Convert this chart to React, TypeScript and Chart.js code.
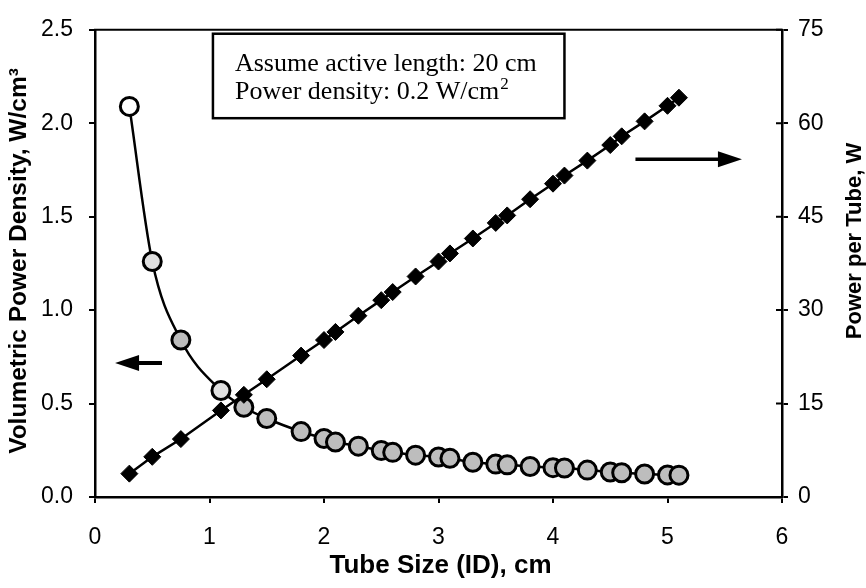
import React, { useEffect, useRef } from 'react';
import { Chart, registerables } from 'chart.js';

Chart.register(...registerables);

// ---- data ----
const tubeSizes = [0.3, 0.5, 0.75, 1.1, 1.3, 1.5, 1.8, 2.0, 2.1, 2.3, 2.5, 2.6, 2.8, 3.0, 3.1, 3.3, 3.5, 3.6, 3.8, 4.0, 4.1, 4.3, 4.5, 4.6, 4.8, 5.0, 5.1];
const volumetricDensity = [2.09, 1.26, 0.84, 0.57, 0.48, 0.42, 0.35, 0.313, 0.294, 0.272, 0.249, 0.239, 0.224, 0.214, 0.207, 0.186, 0.176, 0.172, 0.163, 0.157, 0.155, 0.144, 0.134, 0.13, 0.123, 0.118, 0.117];
const powerPerTube = [3.75, 6.45, 9.3, 13.9, 16.4, 18.9, 22.7, 25.2, 26.5, 29.1, 31.6, 32.9, 35.4, 37.8, 39.1, 41.5, 44.0, 45.2, 47.8, 50.3, 51.6, 54.0, 56.5, 57.9, 60.3, 62.8, 64.1];

const xTicks = [0, 1, 2, 3, 4, 5, 6];
const leftTicks = [0, 0.5, 1.0, 1.5, 2.0, 2.5];
const rightTicks = [0, 15, 30, 45, 60, 75];

const xTitle = 'Tube Size (ID), cm';
const leftTitle = 'Volumetric Power Density, W/cm³';
const rightTitle = 'Power per Tube, W';
const noteLine1 = 'Assume active length: 20 cm';
const noteLine2 = 'Power density: 0.2 W/cm';
const noteSup = '2';

// annotation anchors in data units
const noteBox = { x0: 1.03, x1: 4.1, y0: 2.479, y1: 2.027 };
const leftArrow = { tail: 0.585, tip: 0.175, y: 0.717 };
const rightArrow = { tail: 4.72, tip: 5.65, y: 54.2 };

const SANS = '"Liberation Sans", Arial, sans-serif';
const SERIF = '"Liberation Serif", "Times New Roman", serif';

function drawArrow(ctx: CanvasRenderingContext2D, x0: number, y: number, x1: number, shaft: number) {
  const dir = Math.sign(x1 - x0);
  const headLen = 24;
  const half = 8;
  ctx.lineWidth = shaft;
  ctx.beginPath();
  ctx.moveTo(x0, y);
  ctx.lineTo(x1 - dir * (headLen - 2), y);
  ctx.stroke();
  ctx.beginPath();
  ctx.moveTo(x1, y);
  ctx.lineTo(x1 - dir * headLen, y - half);
  ctx.lineTo(x1 - dir * headLen, y + half);
  ctx.closePath();
  ctx.fill();
}

const decorPlugin = {
  id: 'decor',
  afterDraw(chart: any) {
    const { ctx, chartArea, scales } = chart;
    const sx = scales.x, sy = scales.y, sy1 = scales.y1;
    ctx.save();
    ctx.strokeStyle = '#000';
    ctx.fillStyle = '#000';

    // top frame line
    ctx.lineWidth = 2;
    ctx.beginPath();
    ctx.moveTo(chartArea.left - 1, chartArea.top);
    ctx.lineTo(chartArea.right + 1, chartArea.top);
    ctx.stroke();

    // inner half of right-axis ticks
    ctx.lineWidth = 2;
    ctx.beginPath();
    rightTicks.forEach((v) => {
      const py = sy1.getPixelForValue(v);
      ctx.moveTo(chartArea.right - 6, py);
      ctx.lineTo(chartArea.right, py);
    });
    ctx.stroke();

    // note box
    const bx0 = sx.getPixelForValue(noteBox.x0);
    const bx1 = sx.getPixelForValue(noteBox.x1);
    const by0 = sy.getPixelForValue(noteBox.y0);
    const by1 = sy.getPixelForValue(noteBox.y1);
    ctx.fillStyle = '#fff';
    ctx.fillRect(bx0, by0, bx1 - bx0, by1 - by0);
    ctx.lineWidth = 2.5;
    ctx.strokeRect(bx0, by0, bx1 - bx0, by1 - by0);
    ctx.fillStyle = '#000';
    ctx.font = `26px ${SERIF}`;
    ctx.textBaseline = 'alphabetic';
    ctx.textAlign = 'left';
    ctx.fillText(noteLine1, bx0 + 22, by0 + 37);
    ctx.fillText(noteLine2, bx0 + 22, by0 + 65);
    const w2 = ctx.measureText(noteLine2).width;
    ctx.font = `17px ${SERIF}`;
    ctx.fillText(noteSup, bx0 + 22 + w2 + 1, by0 + 55);

    // arrows
    drawArrow(ctx, sx.getPixelForValue(leftArrow.tail), sy.getPixelForValue(leftArrow.y), sx.getPixelForValue(leftArrow.tip), 4);
    drawArrow(ctx, sx.getPixelForValue(rightArrow.tail), sy1.getPixelForValue(rightArrow.y), sx.getPixelForValue(rightArrow.tip), 3.5);

    // axis titles
    ctx.font = `bold 26px ${SANS}`;
    ctx.textAlign = 'center';
    ctx.textBaseline = 'middle';
    ctx.fillText(xTitle, (chartArea.left + chartArea.right) / 2 + 2, 566);

    ctx.save();
    ctx.translate(19, 261);
    ctx.rotate(-Math.PI / 2);
    ctx.font = `bold 24.5px ${SANS}`;
    ctx.fillText(leftTitle, 0, 0);
    ctx.restore();

    ctx.save();
    ctx.translate(855, 241);
    ctx.rotate(-Math.PI / 2);
    ctx.font = `bold 22px ${SANS}`;
    ctx.fillText(rightTitle, 0, 0);
    ctx.restore();

    ctx.restore();
  },
};

export default function App() {
  const canvasRef = useRef<HTMLCanvasElement | null>(null);

  useEffect(() => {
    if (!canvasRef.current) return;
    const circleFills = tubeSizes.map((_, i) => (i === 0 ? '#ffffff' : i === 1 || i === 3 ? '#e0e0e0' : '#bdbdbd'));

    const tickFont = { family: SANS, size: 23 };
    const gridCfg = { drawOnChartArea: false, drawTicks: true, tickLength: 6, color: '#000', lineWidth: 2 };
    const borderCfg = { display: true, color: '#000', width: 2.5 };

    const chart = new Chart(canvasRef.current, {
      type: 'scatter',
      data: {
        datasets: [
          {
            label: 'Power per Tube',
            data: tubeSizes.map((x, i) => ({ x, y: powerPerTube[i] })),
            yAxisID: 'y1',
            showLine: true,
            borderColor: '#000',
            borderWidth: 2.5,
            tension: 0,
            pointStyle: 'rectRot',
            pointRadius: 8.5,
            pointBackgroundColor: '#000',
            pointBorderColor: '#000',
            pointBorderWidth: 1,
            order: 0,
          },
          {
            label: 'Volumetric Power Density',
            data: tubeSizes.map((x, i) => ({ x, y: volumetricDensity[i] })),
            yAxisID: 'y',
            showLine: true,
            borderColor: '#000',
            borderWidth: 2.5,
            cubicInterpolationMode: 'monotone',
            pointStyle: 'circle',
            pointRadius: 9,
            pointBackgroundColor: circleFills,
            pointBorderColor: '#000',
            pointBorderWidth: 3,
            order: 1,
          },
        ],
      } as any,
      options: {
        animation: false,
        responsive: true,
        maintainAspectRatio: false,
        devicePixelRatio: 1,
        layout: { padding: { top: 16, left: 0, right: 0, bottom: 0 } },
        plugins: { legend: { display: false }, tooltip: { enabled: false } },
        scales: {
          x: {
            type: 'linear',
            position: 'bottom',
            min: 0,
            max: 6,
            afterBuildTicks: (s: any) => { s.ticks = xTicks.map((v) => ({ value: v })); },
            afterFit: (s: any) => { s.height = 91; },
            ticks: { color: '#000', font: tickFont, padding: 21, maxRotation: 0, callback: (v: any) => String(v) },
            grid: gridCfg,
            border: borderCfg,
          },
          y: {
            type: 'linear',
            position: 'left',
            min: 0,
            max: 2.5,
            afterBuildTicks: (s: any) => { s.ticks = leftTicks.map((v) => ({ value: v })); },
            afterFit: (s: any) => { s.width = 95; },
            ticks: { color: '#000', font: tickFont, padding: 16, callback: (v: any) => Number(v).toFixed(1) },
            grid: gridCfg,
            border: borderCfg,
          },
          y1: {
            type: 'linear',
            position: 'right',
            min: 0,
            max: 75,
            afterBuildTicks: (s: any) => { s.ticks = rightTicks.map((v) => ({ value: v })); },
            afterFit: (s: any) => { s.width = 84; },
            ticks: { color: '#000', font: tickFont, padding: 10, callback: (v: any) => String(v) },
            grid: gridCfg,
            border: borderCfg,
          },
        },
      } as any,
      plugins: [decorPlugin],
    });
    return () => chart.destroy();
  }, []);

  return (
    <div style={{ position: 'absolute', left: 0, top: 0, width: 866, height: 588, background: '#fff' }}>
      <canvas ref={canvasRef} style={{ display: 'block' }} />
    </div>
  );
}
